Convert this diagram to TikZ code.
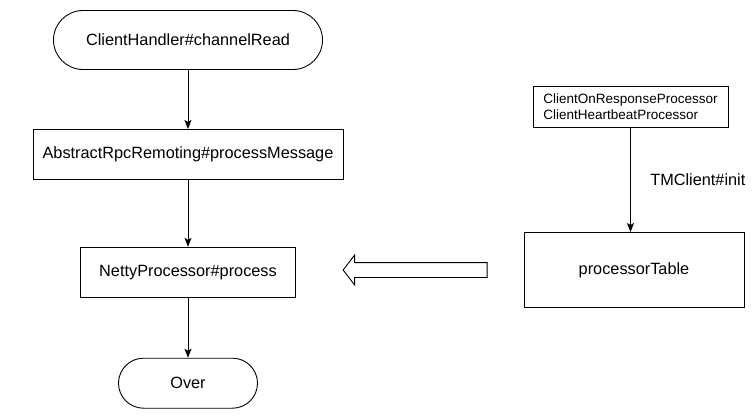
\documentclass[tikz,border=0pt]{standalone}
\usepackage{fontspec}
\setmainfont{Liberation Sans}
\usepackage{tikz}
\usetikzlibrary{arrows.meta,positioning,shapes.arrows}

\begin{document}
\begin{tikzpicture}[
  x=1pt, y=-1pt,
  font=\fontsize{16.3}{19}\selectfont,
  every node/.style={line width=0.9pt},
  box/.style={draw, rectangle, inner sep=3pt, minimum height=50pt},
  term/.style={box, rounded corners=25pt},
  flow/.style={-{Stealth[length=9pt, width=7pt, inset=2pt]}, line width=0.9pt},
  bigarrow/.style={draw, single arrow, shape border rotate=180, inner xsep=0pt,
                   inner ysep=7pt, minimum width=29pt, minimum height=144pt,
                   single arrow head extend=7.5pt, single arrow tip angle=105,
                   line width=0.9pt},
  ]
  \useasboundingbox (0,0) rectangle (754,417);
  \node[term, minimum width=269pt, minimum height=59pt, rounded corners=29.5pt] (start) at (188,40) {ClientHandler\#channelRead};
  \node[box, minimum width=310pt, below=59pt of start] (msg) {AbstractRpcRemoting\#processMessage};
  \node[box, minimum width=215pt, below=67pt of msg] (netty) {NettyProcessor\#process};
  \node[term, minimum width=139pt, below=60pt of netty] (over) {Over};
  \node[box, minimum width=220pt, minimum height=75pt] (table) at (634,270) {processorTable};
  \node[box, minimum width=195pt, minimum height=41pt, align=left,
        font=\fontsize{13.5}{15.5}\selectfont] (procs) at (630.5,106.5)
        {ClientOnResponseProcessor\\ClientHeartbeatProcessor};
  \node[bigarrow] (feed) at (418,270) {};
  \draw[flow] (start) -- (msg);
  \draw[flow] (msg) -- (netty);
  \draw[flow] (netty) -- (over);
  \draw[flow] (procs.south) -- node[right=16pt] (init) {TMClient\#init} (procs.south |- table.north);
\end{tikzpicture}
\end{document}
